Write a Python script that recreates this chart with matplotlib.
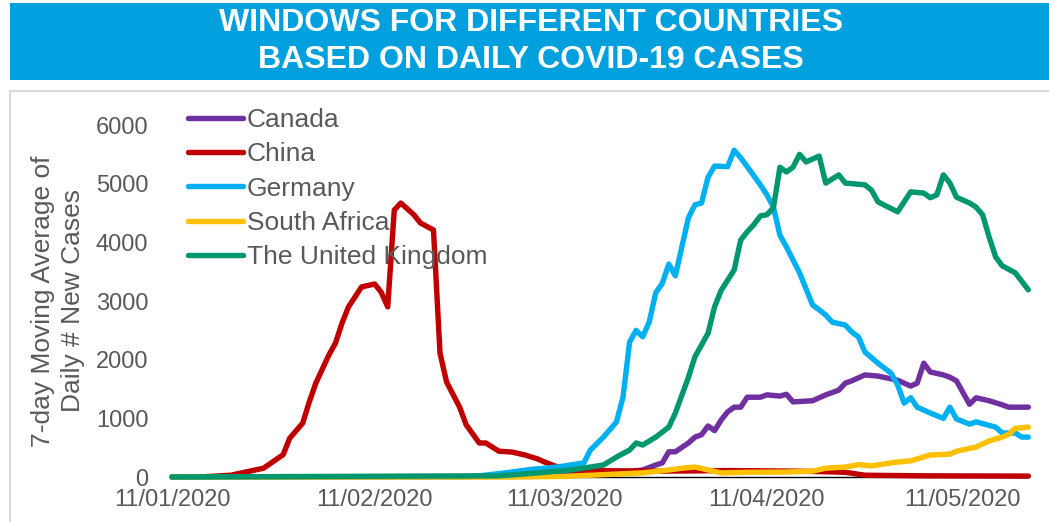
import numpy as np
import matplotlib
matplotlib.use('Agg')
import matplotlib.pyplot as plt
import matplotlib.dates as mdates
from matplotlib.patches import Rectangle

plt.rcParams['font.family'] = ['Liberation Sans', 'DejaVu Sans']

W, H = 1049, 522
START = np.datetime64('2020-01-11')

# 7-day moving averages, day offsets from START
can_day = [0, 55, 63, 69, 72, 74, 75, 76, 77, 79, 80, 81, 82, 83, 84, 85, 86, 87, 88, 90, 91, 93, 94, 95, 98,
           100, 102, 103, 104, 106, 108, 111, 113, 114, 115, 116, 118, 119, 120, 122, 123, 125, 127, 128, 131]
can = [0, 10, 30, 80, 120, 205, 240, 430, 430, 580, 680, 720, 870, 790, 970, 1110, 1190, 1190, 1360, 1360,
       1400, 1380, 1410, 1280, 1300, 1400, 1480, 1600, 1640, 1740, 1720, 1650, 1550, 1600, 1940, 1790, 1740,
       1700, 1640, 1240, 1350, 1300, 1230, 1190, 1190]

chn_day = [0, 5, 9, 14, 17, 18, 20, 21, 22, 24, 25, 26, 27, 29, 31, 32, 33, 34, 35, 37, 38, 40, 41, 42, 44,
           45, 47, 48, 50, 52, 54, 56, 57, 59, 60, 62, 75, 85, 95, 100, 103, 106, 115, 131]
chn = [0, 5, 30, 150, 380, 660, 920, 1280, 1600, 2080, 2280, 2620, 2900, 3240, 3290, 3150, 2900, 4550, 4670,
       4470, 4330, 4210, 2110, 1620, 1190, 890, 580, 580, 440, 425, 375, 305, 255, 170, 120, 110, 100, 110,
       100, 90, 80, 30, 20, 15]

ger_day = [0, 45, 47, 51, 55, 59, 61, 63, 64, 66, 68, 69, 70, 71, 72, 73, 74, 75, 76, 77, 79, 80, 81, 82, 83,
           85, 86, 87, 88, 90, 91, 92, 93, 94, 96, 98, 99, 100, 101, 103, 104, 105, 106, 108, 110, 111, 112,
           113, 114, 116, 118, 119, 120, 122, 123, 126, 127, 129, 130, 131]
ger = [0, 5, 20, 70, 130, 170, 205, 240, 460, 680, 940, 1365, 2300, 2500, 2390, 2640, 3140, 3300, 3630, 3430,
       4420, 4640, 4670, 5110, 5300, 5290, 5570, 5440, 5290, 4980, 4810, 4600, 4120, 3920, 3480, 2930, 2850,
       2760, 2640, 2590, 2470, 2390, 2130, 1940, 1770, 1570, 1260, 1350, 1190, 1090, 1000, 1190, 990, 900,
       940, 850, 750, 750, 680, 680]

sa_day = [0, 50, 60, 66, 72, 76, 78, 80, 82, 84, 88, 94, 98, 100, 103, 105, 107, 110, 111, 113, 116, 119,
          120, 123, 125, 127, 128, 129, 131]
sa = [0, 0, 10, 40, 70, 120, 150, 170, 120, 70, 80, 85, 100, 150, 170, 210, 190, 240, 255, 275, 375, 390,
      440, 510, 615, 680, 730, 830, 850]

uk_day = [0, 50, 56, 61, 64, 66, 68, 70, 71, 72, 74, 76, 77, 79, 80, 82, 83, 84, 86, 87, 88, 89, 90, 91, 92,
          93, 94, 95, 96, 97, 99, 100, 102, 103, 106, 107, 108, 111, 113, 115, 116, 117, 118, 119, 120, 122,
          123, 124, 125, 126, 127, 129, 131]
uk = [0, 20, 70, 120, 170, 205, 340, 460, 580, 545, 680, 850, 1090, 1700, 2050, 2450, 2900, 3180, 3530, 4040,
      4180, 4300, 4450, 4470, 4590, 5280, 5200, 5280, 5500, 5370, 5470, 5010, 5150, 5010, 4980, 4890, 4690,
      4520, 4860, 4840, 4760, 4810, 5150, 5010, 4770, 4670, 4600, 4470, 4090, 3750, 3600, 3480, 3190]

series = [
    ('Canada', can_day, can, '#7030A0'),
    ('China', chn_day, chn, '#C00000'),
    ('Germany', ger_day, ger, '#00B0F0'),
    ('South Africa', sa_day, sa, '#FFC000'),
    ('The United Kingdom', uk_day, uk, '#00976F'),
]

GREY = '#595959'

fig = plt.figure(figsize=(W / 100, H / 100), dpi=100)

# title banner
fig.patches.append(Rectangle((10 / W, 1 - 80 / H), 1 - 10 / W, 77 / H, transform=fig.transFigure,
                             facecolor='#00A0DE', edgecolor='none', zorder=0))
fig.text(531 / W, 1 - 23 / H, 'WINDOWS FOR DIFFERENT COUNTRIES', ha='center', va='center',
         color='white', fontsize=23, fontweight='bold')
fig.text(531 / W, 1 - 60 / H, 'BASED ON DAILY COVID-19 CASES', ha='center', va='center',
         color='white', fontsize=23, fontweight='bold')

# chart area border
fig.patches.append(Rectangle((10 / W, -0.05), 1.0, 1 - 91 / H + 0.05, transform=fig.transFigure,
                             facecolor='none', edgecolor='#D9D9D9', lw=1.5, zorder=0))

x0, x1 = 172, 172 + 131 * 6.537
ax = fig.add_axes([x0 / W, 1 - 477 / H, (x1 - x0) / W, 352 / H])

for name, d, v, c in series:
    dates = START + np.array(d, dtype='timedelta64[D]')
    ax.plot(dates, v, color=c, lw=3.9, label=name, solid_capstyle='round',
            solid_joinstyle='round', clip_on=False, zorder=3)

ax.set_xlim(START, START + np.timedelta64(131, 'D'))
ax.set_ylim(0, 6000)
ax.set_yticks(range(0, 6001, 1000))
ax.xaxis.set_major_locator(mdates.MonthLocator(bymonthday=11))
ax.xaxis.set_major_formatter(mdates.DateFormatter('%d/%m/%Y'))

for s in ['top', 'right', 'left']:
    ax.spines[s].set_visible(False)
ax.spines['bottom'].set_color('black')
ax.spines['bottom'].set_linewidth(1.0)
ax.tick_params(axis='x', length=0, pad=9, labelsize=17, labelcolor=GREY)
ax.tick_params(axis='y', length=0, pad=17, labelsize=17, labelcolor=GREY)

fig.text(58 / W, 1 - 301 / H, '7-day Moving Average of\nDaily # New Cases', rotation=90,
         ha='center', va='center', multialignment='center', fontsize=19, color=GREY,
         linespacing=1.3)

leg = ax.legend(loc='upper left', bbox_to_anchor=(188 / W, 1 - 108 / H), bbox_transform=fig.transFigure,
                frameon=False, fontsize=19, handlelength=2.1, handletextpad=0.12, labelspacing=0.39,
                borderpad=0, borderaxespad=0)
for t in leg.get_texts():
    t.set_color(GREY)

fig.savefig('out.png', dpi=100, facecolor='white')
